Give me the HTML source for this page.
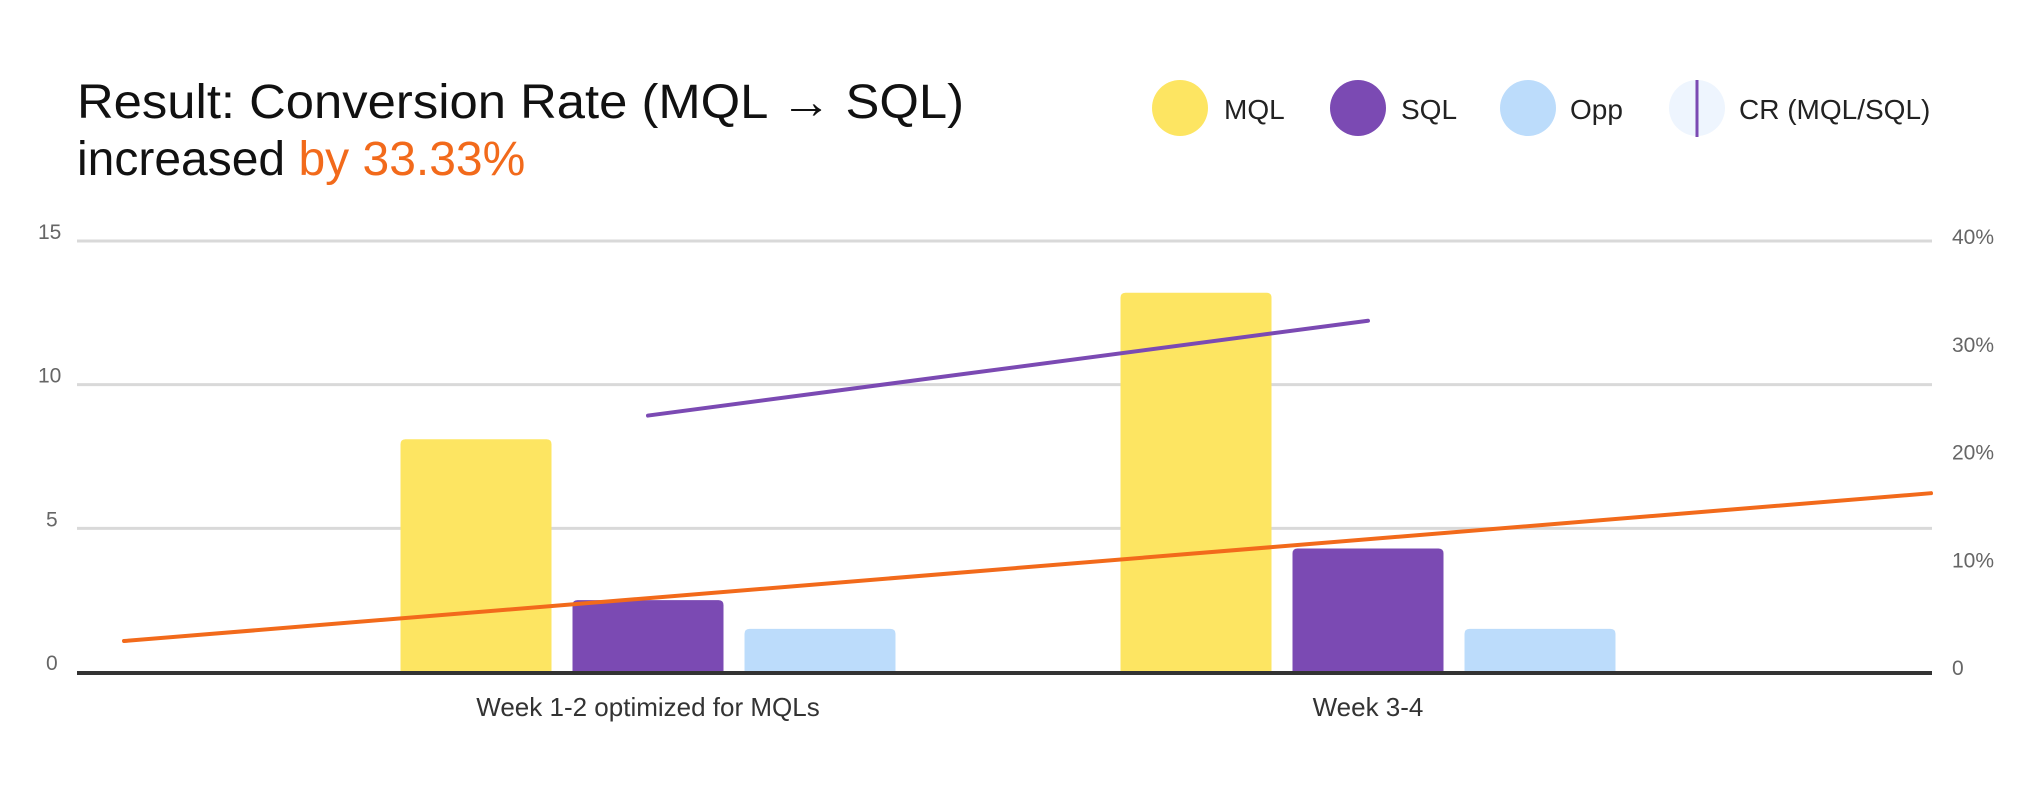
<!DOCTYPE html>
<html><head><meta charset="utf-8"><style>
html,body{margin:0;padding:0;background:#fff;}
svg{display:block;font-family:"Liberation Sans",sans-serif;}
</style></head><body>
<svg id="chart" width="2020" height="800" viewBox="0 0 2020 800" xmlns="http://www.w3.org/2000/svg">
<text x="77" y="118" font-size="48" fill="#111" textLength="887" lengthAdjust="spacingAndGlyphs">Result: Conversion Rate (MQL → SQL)</text>
<text x="77" y="175" font-size="48" fill="#111"><tspan>increased </tspan><tspan fill="#f26a1b">by 33.33%</tspan></text>
<g font-size="28" fill="#222">
 <g><ellipse cx="1180" cy="108" rx="28" ry="28" fill="#fde562"/><text x="1224" y="119">MQL</text></g>
 <g><ellipse cx="1358" cy="108" rx="28" ry="28" fill="#7b4ab3"/><text x="1401" y="119">SQL</text></g>
 <g><ellipse cx="1528" cy="108" rx="28" ry="28" fill="#bcdcfb"/><text x="1570" y="119">Opp</text></g>
 <g><ellipse cx="1697" cy="108" rx="28" ry="28" fill="#eef5fe"/><line x1="1697" y1="80" x2="1697" y2="137" stroke="#7b4ab3" stroke-width="3"/><text x="1739" y="119">CR (MQL/SQL)</text></g>
</g>
<g id="grid"></g><g id="bars"></g><g id="lines"></g><g id="axes"></g>
</svg>
<script>
const categories = ["Week 1-2 optimized for MQLs", "Week 3-4"];
const mqlValues = [8.1, 13.2];
const sqlValues = [2.5, 4.3];
const oppValues = [1.5, 1.5];
const crValues = [23.8, 32.6];
const trendValues = [2.57, 4.62];
const leftTicks = [0, 5, 10, 15];
const rightTicks = [0, 10, 20, 30, 40];
const rightTickLabels = ["0", "10%", "20%", "30%", "40%"];

const NS = "http://www.w3.org/2000/svg";
const plotL = 77, plotR = 1932, y0 = 672, yTop = 241;
const yL = v => y0 - (v / 15) * (y0 - yTop);
const yR = v => y0 - (v / 40) * (y0 - yTop);
const xC = i => 648 + 720 * i;
const barW = 151, step = 172;
function mk(tag, attrs, parent) { const e = document.createElementNS(NS, tag); for (const k in attrs) e.setAttribute(k, attrs[k]); parent.appendChild(e); return e; }
const grid = document.getElementById("grid"), bars = document.getElementById("bars"), lines = document.getElementById("lines"), axes = document.getElementById("axes");

leftTicks.forEach(t => {
  if (t > 0) {
    const g = mk("line", {x1: plotL, x2: plotR, y1: yL(t), y2: yL(t), stroke: "#d9d9d9", "stroke-width": 3}, grid);
    
    
  }
  const tx = mk("text", {x: t >= 10 ? 38 : 46, y: yL(t) - 2, "font-size": 21, fill: "#666"}, axes);
  tx.textContent = t;
  
  
});
rightTicks.forEach((t, i) => {
  const tx = mk("text", {x: 1952, y: yR(t) + 3, "font-size": 21, fill: "#666"}, axes);
  tx.textContent = rightTickLabels[i];
  
  
});
const series = [[mqlValues, "#fde562", "mql"], [sqlValues, "#7b4ab3", "sql"], [oppValues, "#bcdcfb", "opp"]];
categories.forEach((c, i) => {
  series.forEach((s, j) => {
    const v = s[0][i];
    const x = xC(i) - barW / 2 + (j - 1) * step;
    const h = y0 - yL(v);
    const r = mk("path", {d: `M${x},${y0} V${yL(v) + 5} Q${x},${yL(v)} ${x + 5},${yL(v)} H${x + barW - 5} Q${x + barW},${yL(v)} ${x + barW},${yL(v) + 5} V${y0} Z`, fill: s[1]}, bars);
    
    
  });
  const lab = mk("text", {x: xC(i), y: 716, "font-size": 26, fill: "#333", "text-anchor": "middle"}, axes);
  lab.textContent = c;
  
  
});
const base = mk("line", {x1: plotL, x2: plotR, y1: y0 + 1, y2: y0 + 1, stroke: "#333", "stroke-width": 4}, axes);



const crLine = mk("polyline", {points: crValues.map((v, i) => xC(i) + "," + yR(v)).join(" "), fill: "none", stroke: "#7b4ab3", "stroke-width": 4, "stroke-linecap": "round"}, lines);



const slope = trendValues[1] - trendValues[0];
const iA = (124 - xC(0)) / 720, iB = (1931 - xC(0)) / 720;
const tv = k => trendValues[0] + slope * k;
const trend = mk("line", {x1: xC(iA), y1: yL(tv(iA)), x2: xC(iB), y2: yL(tv(iB)), stroke: "#f26a1b", "stroke-width": 4, "stroke-linecap": "round"}, lines);


</script>
</body></html>
